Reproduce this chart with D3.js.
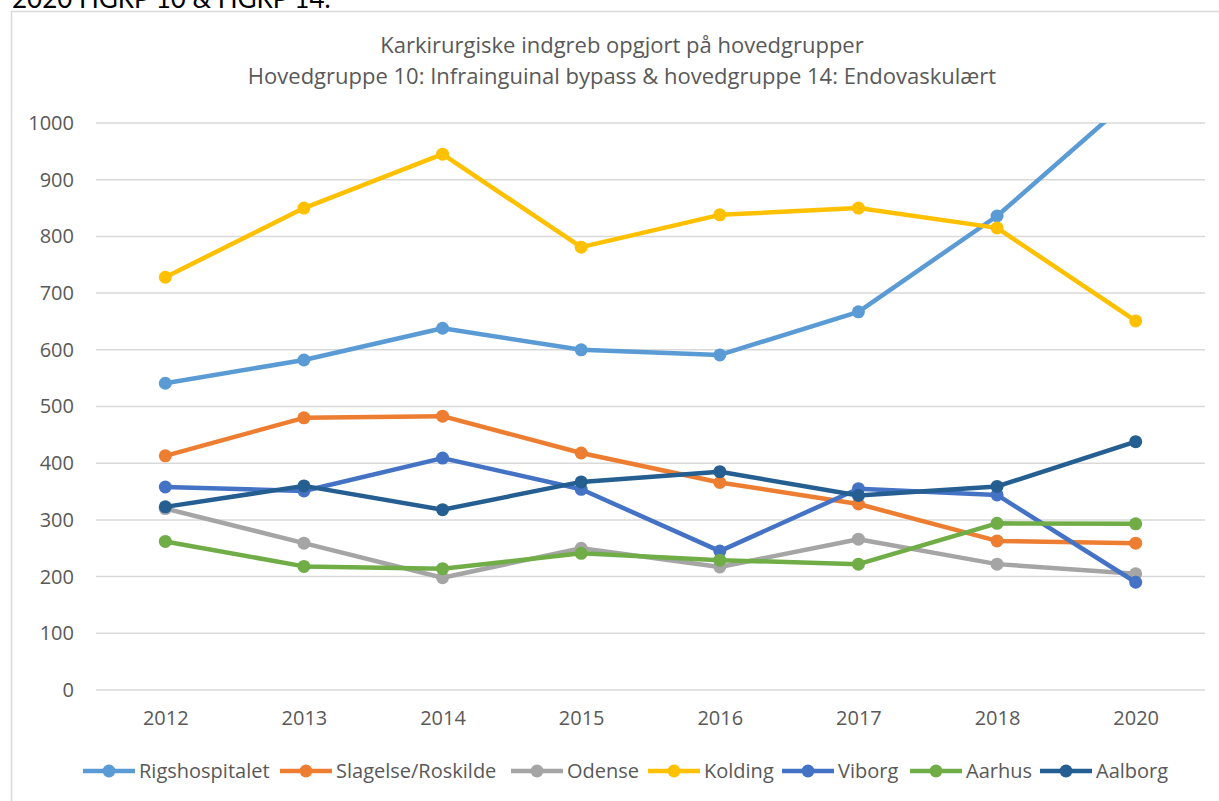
<!DOCTYPE html>
<html>
<head>
<meta charset="utf-8">
<script src="https://cdn.jsdelivr.net/npm/d3@7"></script>
<style>
  body { margin: 0; background: #fff; }
  svg text { font-family: "Open Sans", sans-serif; }
</style>
</head>
<body>
<svg id="chart" width="1219" height="801"></svg>
<script>
// years on the x axis (note: 2019 is missing in the source)
var years = ['2012', '2013', '2014', '2015', '2016', '2017', '2018', '2020'];
var yTicks = [0, 100, 200, 300, 400, 500, 600, 700, 800, 900, 1000];

var rigshospitalet = [541, 582, 638, 600, 591, 667, 836, 1050];
var slagelse       = [413, 480, 483, 418, 366, 328, 263, 259];
var odense         = [320, 259, 198, 250, 217, 266, 222, 205];
var kolding        = [728, 850, 945, 781, 838, 850, 815, 651];
var viborg         = [358, 351, 409, 354, 245, 355, 344, 190];
var aarhus         = [262, 218, 214, 241, 229, 222, 294, 293];
var aalborg        = [323, 360, 318, 367, 385, 343, 359, 438];

var seriesNames = ['Rigshospitalet', 'Slagelse/Roskilde', 'Odense', 'Kolding', 'Viborg', 'Aarhus', 'Aalborg'];
var seriesValues = [rigshospitalet, slagelse, odense, kolding, viborg, aarhus, aalborg];
var seriesColors = ['#5b9bd5', '#ed7d31', '#a5a5a5', '#ffc000', '#4472c4', '#70ad47', '#255e91'];

var svg = d3.select('#chart');
var margin = {top: 123, left: 96, right: 14, bottom: 111};
var width = 1219 - margin.left - margin.right;
var height = 801 - margin.top - margin.bottom;

// clipped heading above the chart box
svg.append('text')
    .attr('x', 12).attr('y', 8)
    .style('font-size', '26px').style('fill', '#000')
    .style('font-family', 'Lato, sans-serif')
    .text('2020 HGRP 10 & HGRP 14.');

// chart box
svg.append('rect')
    .attr('x', 11.5).attr('y', 11.5)
    .attr('width', 1230).attr('height', 800)
    .style('fill', 'none').style('stroke', '#d9d9d9').style('stroke-width', 1.5);

// titles
svg.append('text')
    .attr('x', 622).attr('y', 53)
    .attr('text-anchor', 'middle')
    .style('font-size', '22px').style('fill', '#595959')
    .text('Karkirurgiske indgreb opgjort på hovedgrupper');
svg.append('text')
    .attr('x', 622).attr('y', 84)
    .attr('text-anchor', 'middle')
    .style('font-size', '22px').style('fill', '#595959')
    .text('Hovedgruppe 10: Infrainguinal bypass & hovedgruppe 14: Endovaskulært');

var g = svg.append('g')
    .attr('transform', 'translate(' + margin.left + ',' + margin.top + ')');

var x = d3.scalePoint().domain(years).range([0, width]).padding(0.5);
var y = d3.scaleLinear().domain([0, 1000]).range([height, 0]);

// gridlines
g.selectAll('.grid')
    .data(yTicks)
    .enter().append('line')
    .attr('x1', 0).attr('x2', width)
    .attr('y1', function(d) { return y(d); })
    .attr('y2', function(d) { return y(d); })
    .style('stroke', '#d9d9d9').style('stroke-width', 1.5);

// y axis labels
var yAxis = d3.axisLeft(y).tickValues(yTicks).tickFormat(d3.format('d')).tickSize(0).tickPadding(22);
g.append('g').attr('class', 'y-axis').call(yAxis)
    .call(function(s) { s.select('.domain').remove(); })
    .selectAll('text')
    .style('font-size', '20px').style('fill', '#595959')
    .style('font-family', '"Open Sans", sans-serif');

// x axis labels
var xAxis = d3.axisBottom(x).tickSize(0).tickPadding(21);
g.append('g').attr('class', 'x-axis')
    .attr('transform', 'translate(0,' + height + ')')
    .call(xAxis)
    .call(function(s) { s.select('.domain').remove(); })
    .selectAll('text')
    .style('font-size', '20px').style('fill', '#595959')
    .style('font-family', '"Open Sans", sans-serif');

// clip at the top of the plot area (Rigshospitalet 2020 runs off the scale)
svg.append('clipPath').attr('id', 'plot-clip')
    .append('rect')
    .attr('x', -20).attr('y', 0)
    .attr('width', width + 40).attr('height', height + 20);

var plot = g.append('g').attr('clip-path', 'url(#plot-clip)');

var valueLine = d3.line()
    .x(function(d, i) { return x(years[i]); })
    .y(function(d) { return y(d); });

seriesValues.forEach(function(vals, k) {
    var s = plot.append('g').attr('class', 's' + k);
    s.append('path')
        .attr('d', valueLine(vals))
        .style('fill', 'none')
        .style('stroke', seriesColors[k])
        .style('stroke-width', 4.5)
        .style('stroke-linejoin', 'round');
    s.selectAll('circle')
        .data(vals)
        .enter().append('circle')
        .attr('cx', function(d, i) { return x(years[i]); })
        .attr('cy', function(d) { return y(d); })
        .attr('r', 6.5)
        .style('fill', seriesColors[k]);
});

// legend
var legendX = [83, 280, 511, 648, 782, 910, 1040];
var legend = svg.append('g').attr('transform', 'translate(0,771)');
seriesNames.forEach(function(name, k) {
    var item = legend.append('g').attr('transform', 'translate(' + legendX[k] + ',0)');
    item.append('line')
        .attr('x1', 0).attr('x2', 52)
        .attr('y1', 0).attr('y2', 0)
        .style('stroke', seriesColors[k]).style('stroke-width', 4.5);
    item.append('circle')
        .attr('cx', 26).attr('cy', 0).attr('r', 6.5)
        .style('fill', seriesColors[k]);
    item.append('text')
        .attr('x', 56).attr('y', 7)
        .style('font-size', '20px').style('fill', '#595959')
        .text(name);
});
</script>
</body>
</html>
